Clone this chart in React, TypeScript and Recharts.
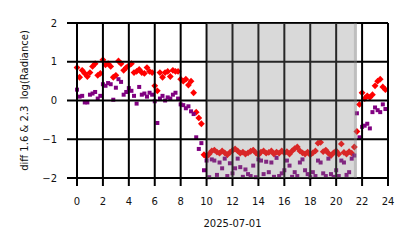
import React from 'react';
import { ScatterChart, Scatter, XAxis, YAxis, CartesianGrid, ReferenceArea, Label } from 'recharts';

const hours = [
  0, 0.2, 0.4, 0.6, 0.8, 1, 1.2, 1.4, 1.6, 1.8,
  2, 2.2, 2.4, 2.6, 2.8, 3, 3.2, 3.4, 3.6, 3.8,
  4, 4.2, 4.4, 4.6, 4.8, 5, 5.2, 5.4, 5.6, 5.8,
  6, 6.2, 6.4, 6.6, 6.8, 7, 7.2, 7.4, 7.6, 7.8,
  8, 8.2, 8.4, 8.6, 8.8, 9, 9.2, 9.4, 9.6, 9.8,
  10, 10.2, 10.4, 10.6, 10.8, 11, 11.2, 11.4, 11.6, 11.8,
  12, 12.2, 12.4, 12.6, 12.8, 13, 13.2, 13.4, 13.6, 13.8,
  14, 14.2, 14.4, 14.6, 14.8, 15, 15.2, 15.4, 15.6, 15.8,
  16, 16.2, 16.4, 16.6, 16.8, 17, 17.2, 17.4, 17.6, 17.8,
  18, 18.2, 18.4, 18.6, 18.8, 19, 19.2, 19.4, 19.6, 19.8,
  20, 20.2, 20.4, 20.6, 20.8, 21, 21.2, 21.4, 21.6, 21.8,
  22, 22.2, 22.4, 22.6, 22.8, 23, 23.2, 23.4, 23.6, 23.8,
];

const redValues = [
  0.85, 0.6, 0.78, 0.7, 0.62, 0.72, 0.88, 0.95, 0.65, 0.7,
  1.05, 0.92, 0.95, 0.88, 0.6, 0.65, 1.02, 0.95, 0.78, 0.85,
  0.9, 0.95, 0.72, 0.75, 0.8, 0.72, 0.7, 0.85, 0.75, 0.72,
  0.38, 0.25, 0.72, 0.6, 0.72, 0.75, 0.62, 0.78, 0.75, 0.75,
  0.55, 0.5, 0.55, 0.4, 0.5, 0.2, -0.3, -0.45, -0.6, -1.4,
  -1.45, -1.38, -1.3, -1.28, -1.33, -1.36, -1.3, -1.35, -1.4, -1.34,
  -1.29, -1.25, -1.3, -1.36, -1.33, -1.38, -1.35, -1.31, -1.28, -1.35,
  -1.4, -1.33, -1.3, -1.36, -1.34, -1.3, -1.38, -1.33, -1.36, -1.3,
  -1.35, -1.32, -1.38, -1.3, -1.24, -1.2, -1.3, -1.35, -1.38, -1.33,
  -1.4, -1.35, -1.3, -1.1, -1.08, -1.32, -1.28, -1.36, -1.42, -1.35,
  -1.3, -1.38, -1.12, -1.34, -1.38, -1.32, -1.36, -1.2, -0.8, -0.1,
  0.2, 0.05, 0.12, 0.08, 0.15, 0.38, 0.5, 0.55, 0.35, 0.28,
];

const purpleValues = [
  0.28, 0.1, 0.12, -0.05, -0.05, 0.15, 0.18, 0.22, 0.05, 0.12,
  0.42, 0.38, 0.45, 0.42, 0.02, 0.33, 0.55, 0.48, 0.15, 0.22,
  0.32, 0.25, 0.12, -0.08, 0.35, 0.15, 0.18, 0.1, 0.2, 0.15,
  -0.02, -0.58, 0.05, 0.12, 0.0, 0.08, 0.05, 0.15, 0.2, 0.05,
  -0.1, -0.12, -0.2, -0.15, -0.28, -0.35, -0.95, -1.25, -1.1, -1.8,
  -1.55, -1.98, -1.52, -1.55, -1.92, -1.6, -1.75, -1.5, -1.95, -1.62,
  -1.88, -1.75, -1.5, -1.72, -1.97, -1.78, -1.9, -1.95, -1.68, -1.98,
  -1.52, -1.55, -1.9, -1.58, -1.85, -1.6, -1.97, -1.48, -1.95, -1.88,
  -1.8, -1.55, -1.68, -1.97, -1.85, -1.95, -1.6, -1.52, -1.8, -1.9,
  -1.98, -1.85, -1.95, -1.55, -1.6, -1.88, -1.95, -1.5, -1.9, -1.97,
  -1.8, -1.95, -1.55, -1.6, -1.92, -1.85, -1.5, -1.42, -0.33, -0.95,
  -0.68, -0.65, -0.6, -0.72, -0.3, -0.18, -0.25, -0.3, -0.1, -0.22,
];

const xTicks = [0, 2, 4, 6, 8, 10, 12, 14, 16, 18, 20, 22, 24];
const yTicks = [-2, -1, 0, 1, 2];
const shadeStart = 10;
const shadeEnd = 21.6;
const shadeOverlapStart = 21.37;
const xLabel = '2025-07-01';
const yLabel = 'diff 1.6 & 2.3  log(Radiance)';

const redData = hours.map((h, i) => ({ x: h, y: redValues[i] }));
const purpleData = hours.map((h, i) => ({ x: h, y: purpleValues[i] }));

const W = 414;
const H = 248;
const FONT = 'DejaVu Sans, sans-serif';
const TEXT = '#111';

const Diamond = (p: any) => {
  const { cx, cy } = p;
  const r = 3.4;
  return <path d={`M${cx},${cy - r}L${cx + r},${cy}L${cx},${cy + r}L${cx - r},${cy}Z`} fill="#ff0000" />;
};
const Square = (p: any) => {
  const { cx, cy } = p;
  return <rect x={cx - 2} y={cy - 2} width={4} height={4} fill="#800080" />;
};
const Empty = () => <g />;

const fmtY = (v: number) => (v < 0 ? `\u2212${-v}` : `${v}`);

export default function App() {
  return (
    <div style={{ position: 'absolute', left: 0, top: 0, width: W, height: H, background: '#fff' }}>
      <div style={{ position: 'absolute', left: 0, top: 0 }}>
        <ScatterChart width={W} height={H} margin={{ top: 23, right: 26, bottom: 70, left: 77 }}>
          <XAxis type="number" dataKey="x" domain={[0, 24]} hide />
          <YAxis type="number" dataKey="y" domain={[-2, 2]} hide />
          <Scatter data={redData} shape={Diamond} isAnimationActive={false} />
          <Scatter data={purpleData} shape={Square} isAnimationActive={false} />
        </ScatterChart>
      </div>
      <div style={{ position: 'absolute', left: 0, top: 0 }}>
        <ScatterChart width={W} height={H} margin={{ top: 23, right: 26, bottom: 0, left: 0 }}>
          <ReferenceArea x1={shadeStart} x2={shadeEnd} y1={-2} y2={2} fill="#808080" fillOpacity={0.3} stroke="none" />
          <ReferenceArea x1={shadeOverlapStart} x2={shadeEnd} y1={-2} y2={2} fill="#808080" fillOpacity={0.3} stroke="none" />
          <CartesianGrid stroke="#000" strokeWidth={2} fill="none" />
          <XAxis
            type="number"
            dataKey="x"
            domain={[0, 24]}
            ticks={xTicks}
            interval={0}
            height={70}
            axisLine={false}
            tickSize={8}
            tickMargin={12}
            tickLine={{ stroke: '#000', strokeWidth: 2 }}
            tick={{ fill: TEXT, fontSize: 10, fontFamily: FONT }}
          >
            <Label
              content={(props: any) => {
                const vb = props.viewBox || {};
                return (
                  <text x={vb.x + vb.width / 2} y={vb.y + 45} textAnchor="middle" dominantBaseline="central" fill={TEXT} fontSize={10} fontFamily={FONT}>
                    {xLabel}
                  </text>
                );
              }}
            />
          </XAxis>
          <YAxis
            type="number"
            dataKey="y"
            domain={[-2, 2]}
            ticks={yTicks}
            interval={0}
            width={77}
            axisLine={false}
            tickSize={10}
            tickMargin={10}
            tickFormatter={fmtY}
            tickLine={{ stroke: '#000', strokeWidth: 2 }}
            tick={{ fill: TEXT, fontSize: 10, fontFamily: FONT }}
          >
            <Label
              content={(props: any) => {
                const vb = props.viewBox || {};
                const cy = vb.y + vb.height / 2;
                const cx = 24;
                return (
                  <text x={cx} y={cy} transform={`rotate(-90 ${cx} ${cy})`} textAnchor="middle" dominantBaseline="central" fill={TEXT} fontSize={10} fontFamily={FONT} style={{ whiteSpace: 'pre' }}>
                    {yLabel}
                  </text>
                );
              }}
            />
          </YAxis>
          <Scatter data={redData} shape={Empty} isAnimationActive={false} />
        </ScatterChart>
      </div>
    </div>
  );
}
